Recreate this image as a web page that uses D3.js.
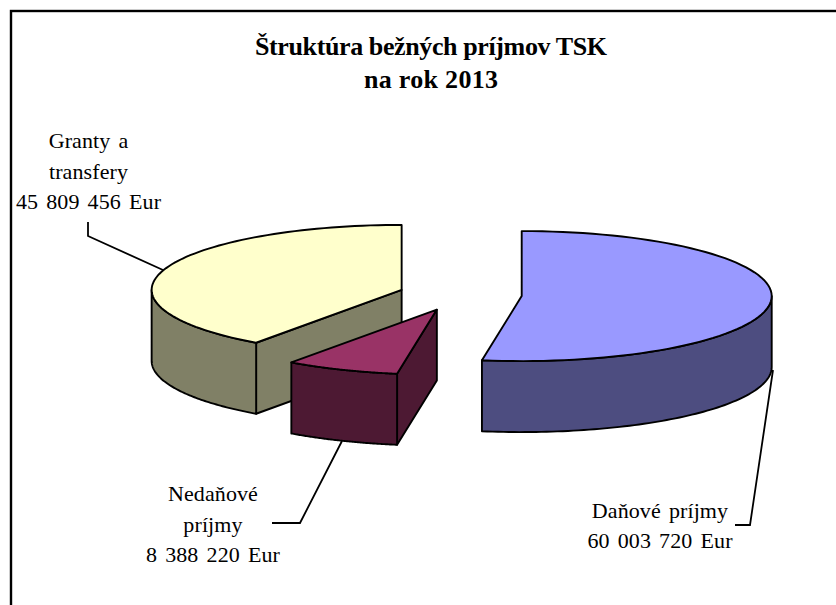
<!DOCTYPE html>
<html><head><meta charset="utf-8">
<script src="https://cdn.jsdelivr.net/npm/d3@7"></script>
<style>html,body{margin:0;padding:0;background:#fff}svg{display:block}text{font-family:"Liberation Serif",serif;fill:#000}</style>
</head><body><svg width="836" height="605"></svg>
<script>
const categories = ["Daňové príjmy", "Nedaňové príjmy", "Granty a transfery"];
const values = [60003720, 8388220, 45809456];
const topColors = ["#9999FF", "#993366", "#FFFFCC"];
const wallColors = ["#4D4D80", "#4D1933", "#808066"];
const titleLines = ["Štruktúra bežných príjmov TSK", "na rok 2013"];
const labelLines = [["Daňové príjmy", "60 003 720 Eur"], ["Nedaňové", "príjmy", "8 388 220 Eur"], ["Granty a", "transfery", "45 809 456 Eur"]];

const W = 836, H = 605;
const cx = 460.3, cy = 294.8, rx = 250, ry = 65, explode = 61.6, depth = 71;
const svg = d3.select("svg");

svg.append("rect").attr("x", 11).attr("y", 11).attr("width", W + 20).attr("height", H + 20)
  .attr("fill", "#fff").attr("stroke", "#000").attr("stroke-width", 2.4);

const pie = d3.pie().sort(null).startAngle(0).endAngle(2 * Math.PI);
const arcs = pie(values);
const X = d3.scaleLinear().domain([-1, 1]).range([-rx, rx]);
const Y = d3.scaleLinear().domain([-1, 1]).range([-ry, ry]);

function centre(a) {
  const m = (a.startAngle + a.endAngle) / 2;
  return [cx + X(Math.sin(m)) * explode / rx, cy - Y(Math.cos(m)) * explode / rx];
}
function rim(a, t0, t1, dz) {
  const c = centre(a), n = 80;
  return d3.range(n + 1).map(i => {
    const t = t0 + (t1 - t0) * i / n;
    return [c[0] + X(Math.sin(t)), c[1] - Y(Math.cos(t)) + dz];
  });
}
const line = d3.line();
const stroke = (s) => s.attr("stroke", "#000").attr("stroke-width", 1.9).attr("stroke-linejoin", "round");

// Paint back to front: granty, nedaňové, daňové
[2, 1, 0].forEach(i => {
  const a = arcs[i], c = centre(a);
  const g = svg.append("g");
  const s = a.startAngle, e = a.endAngle;

  const startPt = rim(a, s, s, 0)[0], endPt = rim(a, e, e, 0)[0];
  const wall = pts => g.append("path").attr("d", line(pts) + "Z").attr("fill", wallColors[i]).call(stroke);
  const down = p => [p[0], p[1] + depth];

  // cut faces turned towards the viewer
  if (Math.sin(s) < 0) wall([c, startPt, down(startPt), down(c)]);
  if (Math.sin(e) > 1e-9) wall([c, endPt, down(endPt), down(c)]);

  // outer rim wall: only the front half (pi/2 .. 3pi/2) is visible
  const f0 = Math.max(s, Math.PI / 2), f1 = Math.min(e, 3 * Math.PI / 2);
  if (f1 > f0) {
    const upper = rim(a, f0, f1, 0), lower = rim(a, f1, f0, depth);
    wall(upper.concat(lower));
  }
  // top
  g.append("path").attr("d", line([c].concat(rim(a, s, e, 0))) + "Z")
    .attr("fill", topColors[i]).call(stroke);
});

// Leader lines, following each slice's label
const leaders = [
  [[735, 525], [750, 525], [773, 370]],
  [[272, 523], [300, 523], [342, 441]],
  [[88, 222], [88, 236], [163, 270]]
];
leaders.forEach(p => svg.append("path").attr("d", line(p)).attr("fill", "none")
  .attr("stroke", "#000").attr("stroke-width", 1.8));

// Title
const titleWidths = [352, 134];
svg.selectAll("text.title").data(titleLines).join("text").attr("class", "title")
  .attr("x", 431).attr("y", (d, i) => 55 + i * 33)
  .attr("text-anchor", "middle").attr("font-size", 26).attr("font-weight", "bold")
  .attr("textLength", (d, i) => titleWidths[i]).attr("lengthAdjust", "spacing").text(d => d);

// Labels
const labelPos = [[660, 518, 30], [213, 501, 30.5], [88.5, 148, 30.5]];
labelLines.forEach((lines, i) => {
  lines.forEach((t, j) => {
    svg.append("text").attr("x", labelPos[i][0]).attr("y", labelPos[i][1] + j * labelPos[i][2])
      .attr("text-anchor", "middle").attr("font-size", 22).attr("letter-spacing", 0.1).attr("word-spacing", 2.5).text(t);
  });
});
</script></body></html>
